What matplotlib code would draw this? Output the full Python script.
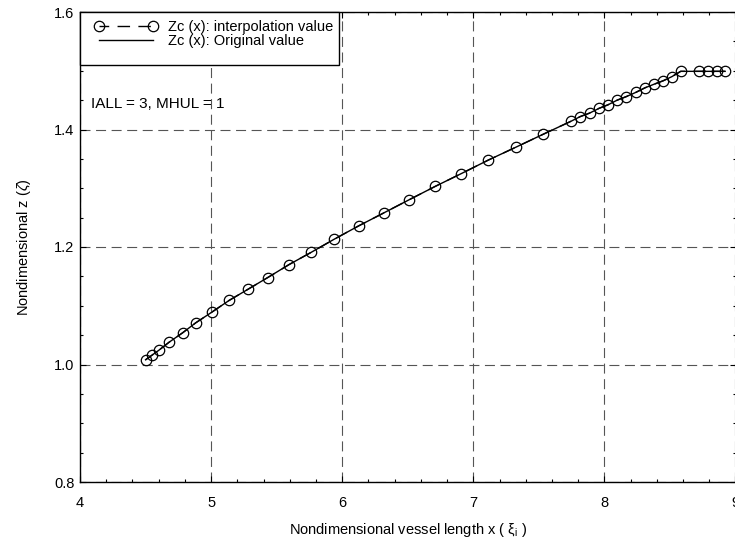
import numpy as np
import matplotlib
matplotlib.use("Agg")
import matplotlib.pyplot as plt
from matplotlib.patches import Rectangle
from matplotlib.ticker import MultipleLocator

plt.rcParams['font.family'] = ['Liberation Sans', 'DejaVu Sans']
plt.rcParams['mathtext.fontset'] = 'custom'
plt.rcParams['mathtext.rm'] = 'Liberation Sans'
plt.rcParams['mathtext.it'] = 'Liberation Sans:italic'

# interpolated points
x_interp = [4.50, 4.55, 4.60, 4.68, 4.783, 4.883, 5.005, 5.137, 5.281, 5.432,
            5.594, 5.764, 5.937, 6.126, 6.317, 6.507, 6.708, 6.909, 7.115,
            7.326, 7.534, 7.745, 7.816, 7.888, 7.959, 8.027, 8.098, 8.167,
            8.238, 8.310, 8.378, 8.449, 8.515, 8.582, 8.724, 8.790, 8.856,
            8.921]
z_interp = [1.008, 1.016, 1.024, 1.038, 1.054, 1.071, 1.089, 1.109, 1.128,
            1.148, 1.170, 1.191, 1.213, 1.236, 1.258, 1.280, 1.303, 1.325,
            1.348, 1.370, 1.392, 1.414, 1.422, 1.428, 1.436, 1.442, 1.450,
            1.456, 1.463, 1.471, 1.477, 1.483, 1.490, 1.499, 1.499, 1.499,
            1.499, 1.499]

# original curve
x_orig = x_interp
z_orig = z_interp

fig = plt.figure(figsize=(7.35, 5.57), dpi=100)
ax = fig.add_axes([80/735, 1 - 482/557, 655.5/735, 470/557])

ax.plot(x_orig, z_orig, color='black', lw=1.0, label='Zc (x): Original value')
ax.plot(x_interp, z_interp, color='black', lw=1.0, linestyle=(2, (9, 6)),
        marker='o', markersize=7.5, markerfacecolor='none',
        markeredgecolor='black', markeredgewidth=0.9,
        label='Zc (x): interpolation value')

ax.set_xlim(4, 9)
ax.set_ylim(0.8, 1.6)
ax.xaxis.set_major_locator(MultipleLocator(1))
ax.xaxis.set_minor_locator(MultipleLocator(0.2))
ax.yaxis.set_major_locator(MultipleLocator(0.2))
ax.yaxis.set_minor_locator(MultipleLocator(0.05))
ax.set_yticks([0.8, 1.0, 1.2, 1.4, 1.6])
ax.set_yticklabels(['0.8', '1.0', '1.2', '1.4', '1.6'])

ax.tick_params(which='both', direction='in', top=True, right=True,
               labelsize=10.5, colors='black')
ax.tick_params(which='major', length=4, width=0.8)
ax.tick_params(which='minor', length=2.5, width=0.8)
ax.tick_params(axis='x', pad=10)
ax.tick_params(axis='y', pad=4)

for s in ax.spines.values():
    s.set_linewidth(1.0)

ax.grid(True, which='major', color='#555555', lw=0.8, linestyle=(0, (9, 5)))

ax.set_xlabel('Nondimensional vessel length x ( ξ$_{\\mathrm{i}}$ )',
              fontsize=10.5, labelpad=8)
ax.set_ylabel('Nondimensional z ($\\zeta$)', fontsize=10.5, labelpad=15)

ax.text(0.0165, 0.804, 'IALL = 3, MHUL = 1', transform=ax.transAxes,
        fontsize=11, va='center', ha='left')

# legend, with its own square box
handles, labels = ax.get_legend_handles_labels()
leg = ax.legend([handles[1], handles[0]], [labels[1], labels[0]],
                loc='upper left', bbox_to_anchor=(0.0229, 0.983), frameon=False,
                fontsize=10.5, numpoints=2, handlelength=4.3, handletextpad=0.7,
                labelspacing=0.0, borderpad=0, borderaxespad=0)
leg.set_zorder(5)
fig.canvas.draw()
bb = leg.get_window_extent().transformed(ax.transAxes.inverted())
ax.add_patch(Rectangle((0, 1 - 53/470), bb.x1 + 6/655.5, 53/470,
                       transform=ax.transAxes, facecolor='white',
                       edgecolor='black', lw=1.0, zorder=4, clip_on=False))

fig.savefig('out.png', dpi=100)
